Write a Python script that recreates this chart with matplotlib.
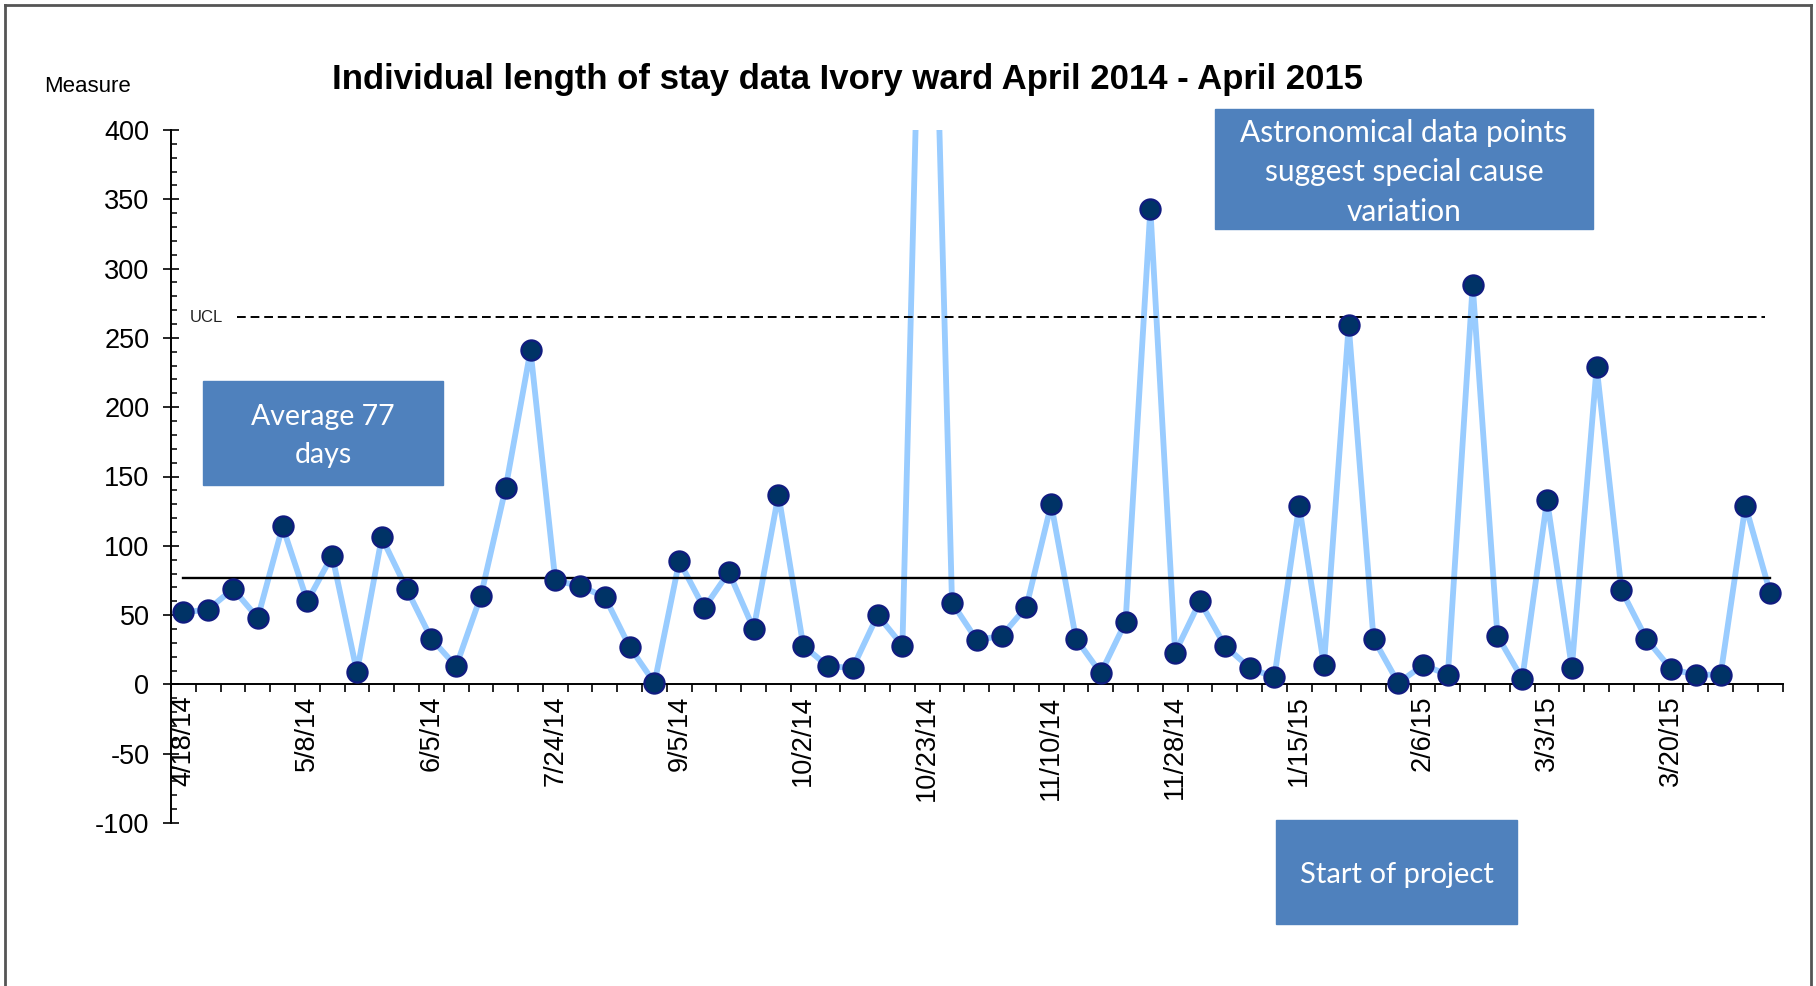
import numpy as np
import matplotlib
matplotlib.use('Agg')
from matplotlib import pyplot as plt
from matplotlib.lines import Line2D
from matplotlib.patches import Rectangle

plt.rcParams['font.family'] = ['Liberation Sans', 'DejaVu Sans']
plt.rcParams['axes.unicode_minus'] = False

# length of stay (days) per discharged patient, in date order
los_days = [52, 54, 69, 48, 114, 60, 93, 9, 106, 69,
            33, 13, 64, 142, 241, 75, 71, 63, 27, 1,
            89, 55, 81, 40, 137, 28, 13, 12, 50, 28,
            730, 59, 32, 35, 56, 130, 33, 8, 45, 343,
            23, 60, 28, 12, 5, 129, 14, 259, 33, 1,
            14, 7, 288, 35, 4, 133, 12, 229, 68, 33,
            11, 7, 7, 129, 66]
mean_los = 77
ucl = 265

label_idx = [0, 5, 10, 15, 20, 25, 30, 35, 40, 45, 50, 55, 60]
label_dates = ['4/18/14', '5/8/14', '6/5/14', '7/24/14', '9/5/14', '10/2/14',
               '10/23/14', '11/10/14', '11/28/14', '1/15/15', '2/6/15',
               '3/3/15', '3/20/15']

W, H = 1816, 986
fig = plt.figure(figsize=(W / 100, H / 100), dpi=100)

# plot area, placed in pixels of the original picture
left, right, top, bottom = 171, 1782.6, 130, 823
ax = fig.add_axes([left / W, 1 - bottom / H, (right - left) / W, (bottom - top) / H])

x = np.arange(len(los_days))
ax.plot(x, los_days, '-', color='#99CCFF', lw=4.2, zorder=2)
ax.plot(x, los_days, 'o', ms=14.5, mfc='#003366', mec='#101C80', mew=1.6,
        ls='none', zorder=4)

# centre line and upper control limit
ax.plot([x[0], x[-1]], [mean_los, mean_los], color='black', lw=1.7, zorder=3)
ax.plot([2.15, x[-1] - 0.2], [ucl, ucl], color='black', lw=1.4,
        ls=(0, (4.5, 2.5)), zorder=3)
ax.text(0.25, ucl, 'UCL', fontsize=12, va='center', ha='left', color='#222222')

ax.set_xlim(-0.5, len(los_days) - 0.5)
ax.set_ylim(-100, 400)

for s in ['top', 'right']:
    ax.spines[s].set_visible(False)
ax.spines['bottom'].set_position(('data', 0))
ax.spines['left'].set_linewidth(1.4)
ax.spines['bottom'].set_linewidth(1.4)

ax.set_yticks(np.arange(-100, 401, 50))
ax.set_yticks(np.arange(-100, 401, 10), minor=True)
ax.tick_params(axis='y', which='major', direction='inout', length=11, width=1.2,
               labelsize=19.5, pad=10)
ax.tick_params(axis='y', which='minor', direction='in', length=4.5, width=1.1)

ax.set_xticks(label_idx)
ax.set_xticklabels(label_dates, rotation=90)
ax.set_xticks(np.arange(-0.5, len(los_days), 1), minor=True)
ax.tick_params(axis='x', which='major', length=0, labelsize=19.5, pad=8)
ax.tick_params(axis='x', which='minor', direction='out', length=5.8, width=1.2)

fig.text(847 / W, 1 - 80 / H,
         'Individual length of stay data Ivory ward April 2014 - April 2015',
         ha='center', va='center', fontsize=25, weight='bold')
fig.text(87 / W, 1 - 86 / H, 'Measure', ha='center', va='center', fontsize=16)


def add_box(x0, y0, x1, y1, text, fs=21, ls=1.5, dy=3):
    fig.add_artist(Rectangle((x0 / W, 1 - y1 / H), (x1 - x0) / W, (y1 - y0) / H,
                             transform=fig.transFigure, color='#4F81BD', zorder=5))
    fig.text((x0 + x1) / 2 / W, 1 - ((y0 + y1) / 2 + dy) / H, text, ha='center',
             va='center', color='white', fontsize=fs, family='Lato',
             linespacing=ls, zorder=6)


add_box(203, 381, 443, 485, 'Average 77\ndays', fs=20.5, ls=1.55)
add_box(1215, 109, 1593, 229, 'Astronomical data points\nsuggest special cause\nvariation',
        fs=21.5, dy=3.5)
add_box(1276, 820, 1517, 924, 'Start of project', dy=2.5)

# outer frame of the slide
fc = '#555555'
fig.add_artist(Line2D([5 / W, 5 / W], [0, 1 - 5 / H], color=fc, lw=2))
fig.add_artist(Line2D([5 / W, 1811 / W], [1 - 5 / H, 1 - 5 / H], color=fc, lw=2))
fig.add_artist(Line2D([1811 / W, 1811 / W], [0, 1 - 5 / H], color=fc, lw=2))

fig.savefig('out.png', dpi=100)
